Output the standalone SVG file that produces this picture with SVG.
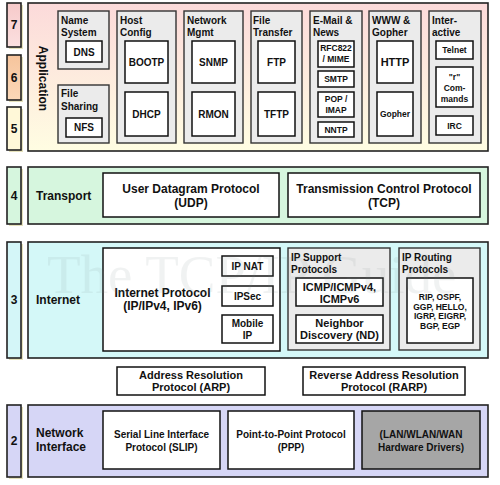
<svg xmlns="http://www.w3.org/2000/svg" width="500" height="485" viewBox="0 0 500 485">
<defs>
<linearGradient id="gApp" x1="0" y1="0" x2="0" y2="1">
<stop offset="0" stop-color="#fcdada"/>
<stop offset="1" stop-color="#fffde2"/>
</linearGradient>
<linearGradient id="g7" x1="0" y1="0" x2="0" y2="1">
<stop offset="0" stop-color="#f6caca"/>
<stop offset="1" stop-color="#fbe0e0"/>
</linearGradient>
<linearGradient id="g6" x1="0" y1="0" x2="0" y2="1">
<stop offset="0" stop-color="#f6c49c"/>
<stop offset="1" stop-color="#fbd8b8"/>
</linearGradient>
<style>
text{font-family:"Liberation Sans",Arial,sans-serif;font-weight:bold;fill:#111}
.lay{stroke:#222;stroke-width:1.6}
.shadow{fill:#e6e2bc}
.grp{fill:#ebebeb;stroke:#333;stroke-width:1.4}
.box{fill:#fff;stroke:#111;stroke-width:1.5}
.num{font-size:12px;text-anchor:middle}
.lt{font-size:12px}
.gt{font-size:10px}
.c{text-anchor:middle}
.f10{font-size:10px}
.f11{font-size:11px}
.f12{font-size:12px}
.f8{font-size:8.5px}
</style>
</defs>
<rect width="500" height="485" fill="#fff"/>

<!-- Layer numbers -->
<g id="num7"><rect class="shadow" x="9" y="5" width="14" height="44"/><rect class="lay" x="7" y="3" width="14" height="44" fill="url(#g7)"/><text class="num" x="14" y="29">7</text></g>
<g id="num6"><rect class="shadow" x="9" y="57" width="14" height="45"/><rect class="lay" x="7" y="55" width="14" height="45" fill="url(#g6)"/><text class="num" x="14" y="82">6</text></g>
<g id="num5"><rect class="shadow" x="9" y="109" width="14" height="43"/><rect class="lay" x="7" y="107" width="14" height="43" fill="#fff8d8"/><text class="num" x="14" y="133">5</text></g>
<g id="num4"><rect class="shadow" x="9" y="169" width="14" height="57"/><rect class="lay" x="7" y="167" width="14" height="57" fill="#d6f6de"/><text class="num" x="14" y="200">4</text></g>
<g id="num3"><rect class="shadow" x="9" y="244" width="14" height="116"/><rect class="lay" x="7" y="242" width="14" height="116" fill="#d4f6f8"/><text class="num" x="14" y="304">3</text></g>
<g id="num2"><rect class="shadow" x="9" y="407" width="14" height="72"/><rect class="lay" x="7" y="405" width="14" height="72" fill="#d6d6f6"/><text class="num" x="14" y="445">2</text></g>

<!-- Application layer -->
<g id="application">
<rect class="lay" x="28" y="3" width="460" height="148" fill="url(#gApp)"/>
<text class="lt c" transform="translate(38.5,78.5) rotate(90)">Application</text>
</g>
<g id="name-system">
<rect class="grp" x="58" y="11" width="51" height="58"/>
<text class="gt" x="61" y="24">Name</text><text class="gt" x="61" y="36">System</text>
<rect class="box" x="66" y="41" width="36" height="21"/><text class="f10 c" x="84" y="55.5">DNS</text>
</g>
<g id="file-sharing">
<rect class="grp" x="58" y="85" width="51" height="58"/>
<text class="gt" x="61" y="97">File</text><text class="gt" x="61" y="110">Sharing</text>
<rect class="box" x="66" y="118" width="36" height="19"/><text class="f10 c" x="84" y="131">NFS</text>
</g>
<g id="host-config">
<rect class="grp" x="117" y="11" width="59" height="132"/>
<text class="gt" x="120" y="24">Host</text><text class="gt" x="120" y="36">Config</text>
<rect class="box" x="125" y="41" width="43" height="42"/><text class="f10 c" x="146.5" y="66">BOOTP</text>
<rect class="box" x="125" y="92" width="43" height="44"/><text class="f10 c" x="146.5" y="118">DHCP</text>
</g>
<g id="network-mgmt">
<rect class="grp" x="184" y="11" width="59" height="132"/>
<text class="gt" x="187" y="24">Network</text><text class="gt" x="187" y="36">Mgmt</text>
<rect class="box" x="192" y="41" width="43" height="42"/><text class="f10 c" x="213.5" y="66">SNMP</text>
<rect class="box" x="192" y="92" width="43" height="44"/><text class="f10 c" x="213.5" y="118">RMON</text>
</g>
<g id="file-transfer">
<rect class="grp" x="251" y="11" width="51" height="132"/>
<text class="gt" x="253" y="24">File</text><text class="gt" x="253" y="36">Transfer</text>
<rect class="box" x="258" y="41" width="37" height="42"/><text class="f10 c" x="276.5" y="66">FTP</text>
<rect class="box" x="258" y="92" width="37" height="44"/><text class="f10 c" x="276.5" y="118">TFTP</text>
</g>
<g id="email-news">
<rect class="grp" x="310" y="11" width="52" height="132"/>
<text class="gt" x="313" y="24">E-Mail &amp;</text><text class="gt" x="313" y="36">News</text>
<rect class="box" x="318" y="41" width="36" height="26"/><text class="f8 c" x="336" y="51">RFC822</text><text class="f8 c" x="336" y="62">/ MIME</text>
<rect class="box" x="318" y="71" width="36" height="16"/><text class="f8 c" x="336" y="82">SMTP</text>
<rect class="box" x="318" y="92" width="36" height="25"/><text class="f8 c" x="336" y="102">POP /</text><text class="f8 c" x="336" y="113">IMAP</text>
<rect class="box" x="318" y="122" width="36" height="15"/><text class="f8 c" x="336" y="133">NNTP</text>
</g>
<g id="www-gopher">
<rect class="grp" x="369" y="11" width="52" height="132"/>
<text class="gt" x="372" y="24">WWW &amp;</text><text class="gt" x="372" y="36">Gopher</text>
<rect class="box" x="377" y="41" width="36" height="42"/><text class="f11 c" x="395" y="66">HTTP</text>
<rect class="box" x="377" y="92" width="36" height="44"/><text class="f8 c" x="395" y="117">Gopher</text>
</g>
<g id="interactive">
<rect class="grp" x="429" y="11" width="52" height="132"/>
<text class="gt" x="432" y="24">Inter-</text><text class="gt" x="432" y="36">active</text>
<rect class="box" x="436" y="41" width="37" height="18"/><text class="f8 c" x="454.5" y="53">Telnet</text>
<rect class="box" x="436" y="67" width="37" height="40"/><text class="f8 c" x="454.5" y="80">"r"</text><text class="f8 c" x="454.5" y="91">Com-</text><text class="f8 c" x="454.5" y="102">mands</text>
<rect class="box" x="436" y="116" width="37" height="19"/><text class="f8 c" x="454.5" y="129">IRC</text>
</g>

<!-- Transport layer -->
<g id="transport">
<rect class="lay" x="28" y="167" width="460" height="57" fill="#d6f6de"/>
<text class="lt" x="36" y="200">Transport</text>
</g>
<g id="udp">
<rect class="box" x="103" y="173" width="176" height="44"/>
<text class="f12 c" x="191" y="193">User Datagram Protocol</text><text class="f12 c" x="191" y="207">(UDP)</text>
</g>
<g id="tcp">
<rect class="box" x="288" y="173" width="192" height="44"/>
<text class="f12 c" x="384" y="193">Transmission Control Protocol</text><text class="f12 c" x="384" y="207">(TCP)</text>
</g>

<!-- Internet layer -->
<g id="internet">
<rect class="lay" x="28" y="242" width="460" height="116" fill="#d4f8f8"/>
<text class="lt" x="36" y="304">Internet</text>
</g>
<g id="ip">
<rect class="box" x="103" y="248" width="177" height="103"/>
<text class="f12 c" x="162.5" y="297">Internet Protocol</text><text class="f12 c" x="162.5" y="310">(IP/IPv4, IPv6)</text>
<rect class="box" x="222" y="256" width="51" height="20"/><text class="f10 c" x="247.5" y="269.5">IP NAT</text>
<rect class="box" x="222" y="286" width="51" height="20"/><text class="f10 c" x="247.5" y="299.5">IPSec</text>
<rect class="box" x="222" y="315" width="51" height="28"/><text class="f10 c" x="247.5" y="327">Mobile</text><text class="f10 c" x="247.5" y="339">IP</text>
</g>
<g id="ip-support">
<rect class="grp" x="288" y="248" width="102" height="102"/>
<text class="gt" x="291" y="261">IP Support</text><text class="gt" x="291" y="273">Protocols</text>
<rect class="box" x="296" y="278" width="87" height="28"/><text class="f11 c" x="339.5" y="290.5">ICMP/ICMPv4,</text><text class="f11 c" x="339.5" y="302.5">ICMPv6</text>
<rect class="box" x="296" y="315" width="87" height="28"/><text class="f11 c" x="339.5" y="327">Neighbor</text><text class="f11 c" x="339.5" y="339">Discovery (ND)</text>
</g>
<g id="ip-routing">
<rect class="grp" x="399" y="248" width="81" height="102"/>
<text class="gt" x="402" y="261">IP Routing</text><text class="gt" x="402" y="273">Protocols</text>
<rect class="box" x="407" y="278" width="66" height="65"/>
<text class="f8 c" x="440" y="300">RIP, OSPF,</text><text class="f8 c" x="440" y="309.5">GGP, HELLO,</text><text class="f8 c" x="440" y="319">IGRP, EIGRP,</text><text class="f8 c" x="440" y="328.5">BGP, EGP</text>
</g>

<!-- ARP / RARP -->
<g id="arp">
<rect class="box" x="117" y="367" width="148" height="28"/>
<text class="f11 c" x="191" y="379">Address Resolution</text><text class="f11 c" x="191" y="391">Protocol (ARP)</text>
</g>
<g id="rarp">
<rect class="box" x="303" y="367" width="162" height="28"/>
<text class="f11 c" x="384" y="379">Reverse Address Resolution</text><text class="f11 c" x="384" y="391">Protocol (RARP)</text>
</g>

<!-- Network Interface layer -->
<g id="network-interface">
<rect class="lay" x="28" y="405" width="460" height="72" fill="#d6d6f6"/>
<text class="lt" x="36" y="437">Network</text><text class="lt" x="36" y="451">Interface</text>
</g>
<g id="slip">
<rect class="box" x="103" y="411" width="117" height="58"/>
<text class="f10 c" x="161.5" y="438">Serial Line Interface</text><text class="f10 c" x="161.5" y="451">Protocol (SLIP)</text>
</g>
<g id="ppp">
<rect class="box" x="228" y="411" width="126" height="58"/>
<text class="f10 c" x="291" y="438">Point-to-Point Protocol</text><text class="f10 c" x="291" y="451">(PPP)</text>
</g>
<g id="hw">
<rect class="box" x="362" y="411" width="118" height="58" fill="#a6a6a6" style="fill:#a6a6a6"/>
<text class="f10 c" x="421" y="438">(LAN/WLAN/WAN</text><text class="f10 c" x="421" y="451">Hardware Drivers)</text>
</g>

<g id="connectors"></g>

<text x="47" y="293" style="font-family:'Liberation Serif','Times New Roman',serif;font-weight:normal;font-size:55px;fill:#7a8a8a;opacity:0.1">The TCP/IP Guide</text>
</svg>
